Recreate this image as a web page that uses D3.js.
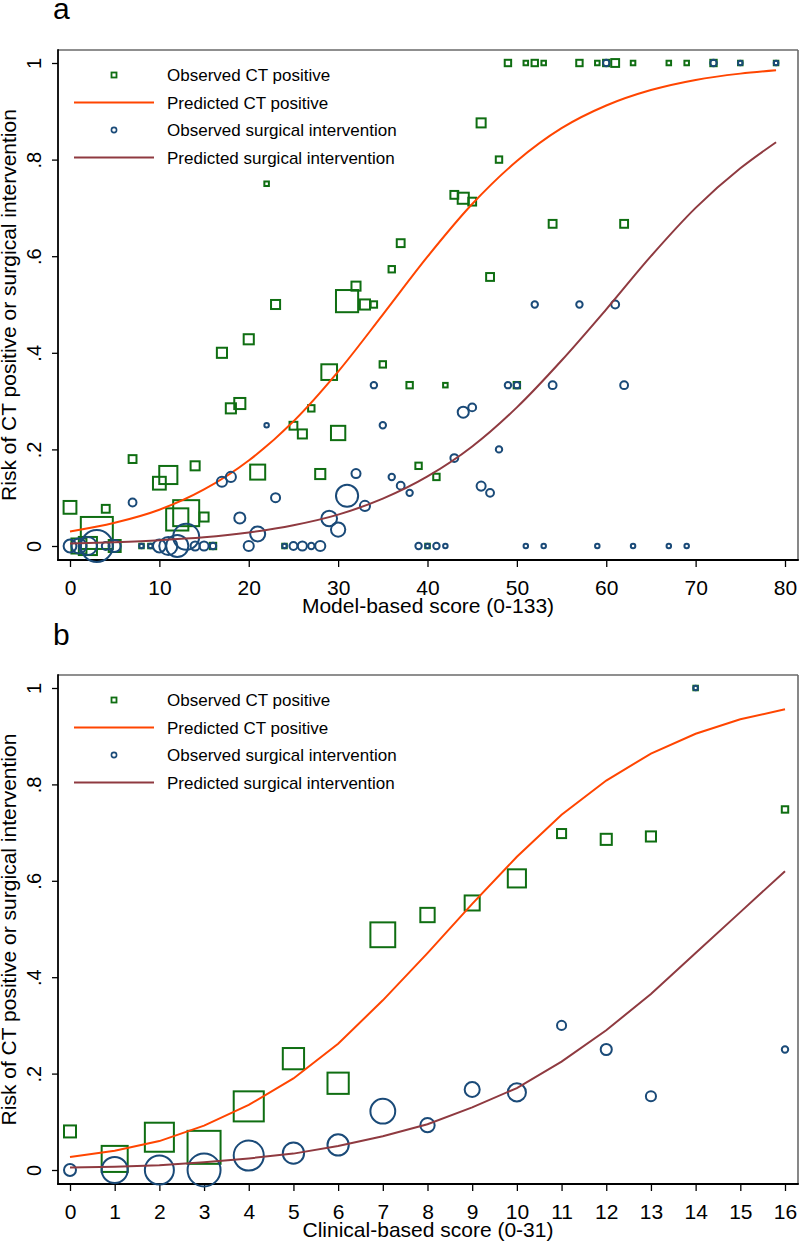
<!DOCTYPE html>
<html><head><meta charset="utf-8">
<script src="https://cdn.jsdelivr.net/npm/d3@7"></script>
<style>
html,body{margin:0;padding:0;background:#fff;}
svg{display:block;font-family:"Liberation Sans",Arial,sans-serif;}
</style></head>
<body><svg id="c" width="800" height="1245"></svg>
<script>
// ---------- Panel a data (Model-based score) ----------
const aScore = [0,1,2,3,4,5,7,8,9,10,11,12,13,14,15,16,17,18,19,20,21,22,23,24,25,26,27,28,29,30,31,32,33,34,35,36,37,38,39,40,41,42,43,44,45,46,47,48,49,50,51,52,53,54,57,59,60,61,62,63,67,69,72,75,79];
const aObsCT = [0.08,0,0,0.027,0.077,0,0.18,0,0,0.13,0.147,0.055,0.068,0.166,0.06,0,0.40,0.285,0.295,0.428,0.153,0.75,0.50,0,0.249,0.232,0.285,0.149,0.36,0.234,0.507,0.538,0.5,0.5,0.376,0.573,0.627,0.333,0.166,0,0.143,0.333,0.727,0.72,0.713,0.876,0.557,0.80,1,0.333,1,1,1,0.667,1,1,1,1,0.667,1,1,1,1,1,1];
const aObsSurg = [0,0,0,0,0,0,0.09,0,0,0,0,0,0.019,0,0,0,0.133,0.143,0.058,0,0.025,0.25,0.10,0,0,0,0,0,0.057,0.034,0.104,0.15,0.083,0.333,0.25,0.143,0.125,0.11,0,0,0,0,0.182,0.277,0.287,0.124,0.11,0.2,0.333,0.333,0,0.5,0,0.333,0.5,0,1,0.5,0.333,0,0,0,1,1,1];
const aCount = [8,11,16,50,3,7,3,1,1,8,16,24,33,4,4,2,5,5,6,5,11,1,4,1,3,4,2,5,12,10,24,4,5,2,2,2,3,2,2,1,2,1,3,6,3,4,3,2,2,2,1,2,1,3,2,1,2,3,3,1,1,1,2,1,1];
const aPredX = [0,5,10,15,20,25,30,35,40,45,50,55,60,65,70,75,79];
const aPredCT = [0.030,0.048,0.075,0.117,0.177,0.258,0.361,0.479,0.599,0.708,0.797,0.865,0.912,0.944,0.965,0.978,0.985];
const aPredSurg = [0.005,0.008,0.012,0.018,0.028,0.043,0.065,0.098,0.144,0.206,0.287,0.384,0.490,0.600,0.700,0.782,0.836];
const aXTicks = [0,10,20,30,40,50,60,70,80];

// ---------- Panel b data (Clinical-based score) ----------
const bScore = [0,1,2,3,4,5,6,7,8,9,10,11,12,13,14,16];
const bObsCT = [0.08,0.023,0.068,0.047,0.132,0.231,0.18,0.488,0.529,0.554,0.605,0.698,0.686,0.692,1,0.748];
const bObsSurg = [0,0,0,0,0.03,0.035,0.052,0.122,0.093,0.167,0.161,0.30,0.25,0.153,1,0.25];
const bCount = [7,33,41,53,44,22,22,30,10,11,16,4,6,5,1,2];
const bPredX = [0,1,2,3,4,5,6,7,8,9,10,11,12,13,14,15,16];
const bPredCT = [0.027,0.040,0.060,0.092,0.135,0.190,0.262,0.352,0.450,0.552,0.650,0.737,0.808,0.864,0.905,0.935,0.956];
const bPredSurg = [0.005,0.007,0.010,0.016,0.024,0.034,0.050,0.070,0.095,0.130,0.170,0.225,0.290,0.365,0.450,0.535,0.620];
const bXTicks = [0,1,2,3,4,5,6,7,8,9,10,11,12,13,14,15,16];

const yTicks = [0,0.2,0.4,0.6,0.8,1];
const yTickLabels = ["0",".2",".4",".6",".8","1"];
const legendLabels = ["Observed CT positive","Predicted CT positive","Observed surgical intervention","Predicted surgical intervention"];
const yTitle = "Risk of CT positive or surgical intervention";

const GREEN = "#0f6e12", BLUE = "#1a4a78", ORANGE = "#ff4500", MAROON = "#8f3a40";

const svg = d3.select("#c");

function panel(cfg){
  const g = svg.append("g");
  const {top,bottom,left,right} = cfg;
  const x = d3.scaleLinear().domain(cfg.xDomain).range([70,785]);
  const y = d3.scaleLinear().domain([0,1]).range([bottom-14, top+13]);
  const sz = d3.scaleSqrt().domain([0, cfg.maxN]).range([0, cfg.maxSide]);

  // frame (top/right gray)
  g.append("line").attr("x1",left).attr("x2",right).attr("y1",top).attr("y2",top).attr("stroke","#6a6a6a").attr("stroke-width",1.6);
  g.append("line").attr("x1",right).attr("x2",right).attr("y1",top).attr("y2",bottom).attr("stroke","#6a6a6a").attr("stroke-width",1.6);

  // y axis
  const ya = g.append("g").attr("transform",`translate(${left},0)`)
    .call(d3.axisLeft(y).tickValues(yTicks).tickSize(6).tickFormat((d,i)=>yTickLabels[i]));
  ya.select(".domain").remove();
  ya.selectAll(".tick line").attr("stroke","#000").attr("stroke-width",1.3);
  ya.selectAll(".tick text").attr("x",0).attr("dy",0).attr("y",0)
    .attr("text-anchor","middle").attr("transform","translate(-17,0) rotate(-90)")
    .attr("font-size",20).attr("fill","#000").style("font-family","Liberation Sans, Arial, sans-serif");

  // x axis
  const xa = g.append("g").attr("transform",`translate(0,${bottom})`)
    .call(d3.axisBottom(x).tickValues(cfg.xTicks).tickSize(7).tickFormat(d3.format("d")));
  xa.select(".domain").remove();
  xa.selectAll(".tick line").attr("stroke","#000").attr("stroke-width",1.3);
  xa.selectAll(".tick text").attr("y",35).attr("dy",0)
    .attr("font-size",21).attr("fill","#000").style("font-family","Liberation Sans, Arial, sans-serif");

  // spines
  g.append("line").attr("x1",left).attr("x2",left).attr("y1",top-0.8).attr("y2",bottom+0.8).attr("stroke","#000").attr("stroke-width",1.8);
  g.append("line").attr("x1",left-0.8).attr("x2",right+0.8).attr("y1",bottom).attr("y2",bottom).attr("stroke","#000").attr("stroke-width",1.8);

  // observed CT squares
  g.append("g").selectAll("rect").data(cfg.score).join("rect")
    .attr("x",(d,i)=>x(d)-sz(cfg.n[i])/2).attr("y",(d,i)=>y(cfg.ct[i])-sz(cfg.n[i])/2)
    .attr("width",(d,i)=>sz(cfg.n[i])).attr("height",(d,i)=>sz(cfg.n[i]))
    .attr("fill","none").attr("stroke",GREEN).attr("stroke-width",2);

  const line = d3.line().x(d=>x(d[0])).y(d=>y(d[1])).curve(cfg.curve);
  g.append("path").datum(cfg.px.map((d,i)=>[d,cfg.pct[i]])).attr("d",line)
    .attr("fill","none").attr("stroke",ORANGE).attr("stroke-width",2);

  // observed surgical circles
  g.append("g").selectAll("circle").data(cfg.score).join("circle")
    .attr("cx",d=>x(d)).attr("cy",(d,i)=>y(cfg.surg[i])).attr("r",(d,i)=>sz(cfg.n[i])/2)
    .attr("fill","none").attr("stroke",BLUE).attr("stroke-width",2);

  g.append("path").datum(cfg.px.map((d,i)=>[d,cfg.psurg[i]])).attr("d",line)
    .attr("fill","none").attr("stroke",MAROON).attr("stroke-width",2);

  // legend
  const lg = g.append("g");
  legendLabels.forEach((t,i)=>{
    const ly = top + 25 + i*27.5;
    if(i===0) lg.append("rect").attr("x",111.5).attr("y",ly-2.5).attr("width",5).attr("height",5).attr("fill","none").attr("stroke",GREEN).attr("stroke-width",1.8);
    if(i===2) lg.append("circle").attr("cx",114).attr("cy",ly).attr("r",2.6).attr("fill","none").attr("stroke",BLUE).attr("stroke-width",1.6);
    if(i===1||i===3) lg.append("line").attr("x1",74).attr("x2",154).attr("y1",ly).attr("y2",ly).attr("stroke",i===1?ORANGE:MAROON).attr("stroke-width",2);
    lg.append("text").attr("x",167).attr("y",ly+6).attr("font-size",17).attr("fill","#000").text(t);
  });

  // axis titles
  g.append("text").attr("x",(left+right)/2).attr("y",cfg.xTitleY).attr("text-anchor","middle")
    .attr("font-size",21).attr("fill","#000").text(cfg.xTitle);
  g.append("text").attr("transform",`translate(15.5,${(top+bottom)/2}) rotate(-90)`).attr("text-anchor","middle")
    .attr("font-size",21).attr("fill","#000").text(yTitle);
  // panel letter
  g.append("text").attr("x",53).attr("y",cfg.letterY).attr("font-size",30).attr("fill","#000").text(cfg.letter);
}

panel({top:50,bottom:560,left:58,right:798,xDomain:[0,80],xTicks:aXTicks,
  score:aScore,ct:aObsCT,surg:aObsSurg,n:aCount,maxN:50,maxSide:32,
  px:aPredX,pct:aPredCT,psurg:aPredSurg,curve:d3.curveMonotoneX,
  xTitle:"Model-based score (0-133)",xTitleY:613,letter:"a",letterY:19});

panel({top:675,bottom:1184,left:58,right:798,xDomain:[0,16],xTicks:bXTicks,
  score:bScore,ct:bObsCT,surg:bObsSurg,n:bCount,maxN:53,maxSide:33,
  px:bPredX,pct:bPredCT,psurg:bPredSurg,curve:d3.curveLinear,
  xTitle:"Clinical-based score (0-31)",xTitleY:1237,letter:"b",letterY:645});
</script></body></html>
